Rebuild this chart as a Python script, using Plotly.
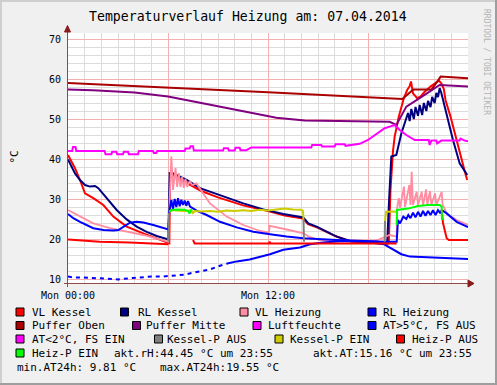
import plotly.graph_objects as go

W, H = 497, 385
L, R, T, B = 68, 29, 33, 102
PW, PH = W - L - R, H - T - B


def px(x):
    return (x - L) / PW


def py(y):
    return (H - B - y) / PH


# ---------------- data (hours since Mon 00:00, degC / %) ----------------
vl_kessel_h = [0.0, 0.42, 0.72, 1.02, 1.52, 2.12, 2.72, 3.52, 4.52, 5.52, 6.02, 6.08, 6.12, 6.2,
               7.0, 8.0, 9.0, 10.5, 12.0, 13.0, 14.1, 14.4, 15.0, 16.0, 17.0, 18.0, 19.2,
               19.25, 19.35, 19.5, 19.6, 19.85, 20.15, 20.35, 20.5, 20.58, 20.7, 20.95, 21.15,
               21.4, 21.75, 22.25, 22.4, 22.55, 22.65, 22.95, 23.25, 23.55, 23.8, 23.95]
vl_kessel_v = [41.0, 37.7, 34.75, 31.4, 30.2, 28.5, 25.6, 23.1, 21.4, 19.75, 18.9, 18.9, 35.0, 36.2,
               34.3, 32.0, 30.4, 28.4, 27.0, 25.9, 25.1, 23.7, 22.8, 20.8, 19.3, 19.0, 18.8,
               19.5, 32.3, 42.0, 45.6, 50.6, 55.2, 57.25, 58.2, 59.4, 56.4, 55.2, 55.6,
               56.8, 58.1, 59.6, 58.9, 57.5, 54.75, 50.6, 45.6, 40.6, 37.0, 34.75]

rl_kessel_h = [0.0, 0.24, 0.42, 0.72, 1.02, 1.32, 1.62, 1.82, 2.32, 2.92, 3.52, 4.12, 4.72, 5.32,
               6.02, 6.1, 6.32, 7.12, 7.92, 9.12, 10.52, 11.72, 12.92, 14.12, 14.42, 14.92,
               16.12, 16.92, 18.52, 19.0, 19.15, 19.2, 19.27, 19.4, 19.7, 20.0, 20.3, 20.4,
               20.5, 20.6, 20.75, 20.85, 21.0, 21.1, 21.25, 21.35, 21.5, 21.6, 21.75, 21.85,
               22.0, 22.1, 22.2, 22.3, 22.4, 22.55, 22.7, 23.1, 23.5, 23.8, 23.96]
rl_kessel_v = [39.9, 38.1, 36.4, 34.75, 33.5, 33.1, 33.25, 32.7, 30.2, 27.25, 24.9, 23.1, 21.8, 20.75,
               19.9, 36.5, 36.4, 34.75, 32.7, 31.0, 28.9, 27.4, 26.25, 25.4, 23.9, 23.1,
               20.6, 19.5, 19.0, 18.75, 19.0, 26.0, 30.2, 40.6, 41.0, 46.4, 50.2, 51.5,
               49.5, 52.5, 50.0, 53.0, 50.8, 53.5, 51.0, 54.0, 52.0, 54.5, 53.0, 55.5,
               54.0, 56.5, 55.5, 57.7, 56.5, 54.0, 51.4, 44.75, 38.9, 37.0, 36.0]

vl_heizung_h = [0.0, 0.72, 1.52, 2.52, 3.52, 4.52, 5.52, 6.02, 6.1, 6.2, 6.3, 6.45, 6.55, 6.65,
                6.75, 6.85, 6.95, 7.05, 7.15, 7.3, 7.45, 7.7, 8.52, 9.52, 10.52, 11.52, 12.05,
                12.1, 13.0, 14.12, 14.5, 15.1, 17.0, 18.5, 19.0, 19.3, 19.72, 19.75, 19.85,
                19.92, 20.16, 20.22, 20.48, 20.55, 20.62, 20.7, 20.92, 21.0, 21.22, 21.3,
                21.48, 21.56, 21.72, 21.8, 22.02, 22.1, 22.42, 22.48, 22.55, 22.72, 23.32,
                23.92, 24.0]
vl_heizung_v = [27.25, 25.6, 23.9, 22.7, 21.8, 21.0, 19.9, 19.3, 30.0, 40.6, 32.25, 37.7, 33.0, 36.5,
                33.0, 35.5, 32.8, 35.0, 33.0, 34.5, 33.5, 33.9, 28.9, 25.6, 23.5, 22.0, 21.6,
                23.3, 22.5, 21.4, 20.5, 19.75, 19.4, 19.6, 20.5, 21.0, 20.6, 28.0, 30.2,
                27.8, 33.1, 28.0, 33.5, 28.5, 36.8, 28.5, 31.8, 28.5, 31.8, 28.3,
                32.4, 28.5, 32.0, 28.5, 31.4, 28.5, 31.8, 28.4, 28.0, 26.4, 24.75,
                23.5, 23.5]

rl_heizung_h = [0.0, 0.32, 0.72, 1.12, 1.52, 2.12, 2.72, 3.02, 3.32, 3.72, 4.12, 4.52, 5.12, 5.72,
                6.02, 6.08, 6.2, 6.3, 6.4, 6.5, 6.6, 6.7, 6.8, 6.9, 7.0, 7.1, 7.2, 7.32, 7.72,
                8.32, 9.12, 10.12, 11.12, 12.12, 13.12, 14.12, 16.12, 19.0, 19.72, 19.8, 19.92,
                20.12, 20.3, 20.42, 20.55, 20.7, 20.85, 21.0, 21.15, 21.3, 21.45, 21.6, 21.75,
                21.9, 22.05, 22.2, 22.35, 22.42, 22.72, 23.32, 23.92, 24.0]
rl_heizung_v = [26.25, 25.2, 24.3, 23.5, 22.7, 22.25, 22.1, 22.25, 23.1, 24.1, 24.3, 24.1, 23.5, 22.8,
                22.4, 26.8, 29.75, 27.5, 30.0, 28.0, 30.2, 28.2, 29.8, 28.5, 29.6, 28.3, 29.5, 28.1, 27.1,
                26.0, 24.3, 22.9, 21.8, 21.2, 20.6, 20.2, 19.75, 19.3, 19.3, 24.75, 23.9,
                25.6, 25.0, 26.0, 25.2, 26.6, 25.4, 26.8, 25.6, 27.0, 25.8, 27.0, 26.0,
                27.2, 26.0, 27.2, 26.4, 27.25, 26.4, 24.3, 23.1, 23.0]

puffer_oben_h = [0.0, 6.0, 12.0, 20.06, 20.72, 21.82, 22.36, 24.0]
puffer_oben_v = [59.0, 57.9, 56.7, 55.0, 57.4, 57.4, 60.6, 60.2]

puffer_mitte_h = [0.0, 1.5, 4.0, 6.0, 8.0, 10.9, 12.5, 14.2, 17.0, 19.3, 19.7, 20.3, 21.1, 22.3, 24.0]
puffer_mitte_v = [57.4, 57.2, 56.6, 55.6, 54.0, 51.6, 50.3, 49.6, 49.5, 49.3, 48.5, 53.1, 55.2, 58.5, 58.1]

luftfeuchte_h = [0.0, 0.25, 0.3, 0.45, 0.5, 2.2, 2.25, 2.6, 2.65, 2.9, 2.95, 3.3, 3.35, 3.6, 3.65,
                 4.2, 4.25, 5.1, 5.15, 5.3, 5.35, 7.0, 7.05, 7.3, 7.35, 7.5, 7.55, 9.3, 9.35,
                 9.6, 9.65, 10.0, 10.05, 10.3, 10.35, 10.7, 11.0, 14.6, 14.65, 15.2, 15.25,
                 16.0, 16.05, 16.6, 16.65, 17.5, 18.0, 18.4, 18.7, 19.0, 19.3, 19.6, 19.9,
                 20.3, 20.8, 21.65, 21.7, 21.8, 22.1, 22.15, 22.4, 23.5, 23.55, 23.8, 24.0]
luftfeuchte_v = [42.0, 42.0, 43.0, 43.0, 42.0, 42.0, 41.2, 41.2, 41.8, 41.8, 41.2, 41.2, 41.8, 41.8, 41.2,
                 41.2, 42.0, 42.0, 41.5, 41.5, 42.0, 42.0, 42.6, 42.6, 43.2, 43.2, 42.1, 42.1, 42.7,
                 42.7, 42.1, 42.1, 42.8, 42.8, 42.2, 42.2, 42.9, 42.9, 43.5, 43.5, 43.1,
                 43.1, 43.7, 43.7, 43.3, 43.8, 44.75, 46.0, 46.8, 47.7, 48.1, 48.5, 47.25,
                 46.0, 44.75, 44.75, 43.5, 44.6, 44.6, 43.9, 44.6, 44.6, 45.1, 44.6, 44.45]

aussen_h = [0.0, 0.3, 0.9, 1.92, 2.5, 3.0, 3.9, 5.0, 5.62, 7.0, 7.52, 8.52, 9.12, 9.5,
            10.12, 10.9, 12.12, 12.92, 13.92, 14.52, 15.32, 16.5, 17.5, 18.52, 19.0,
            19.5, 20.0, 20.52, 21.5, 22.5, 24.0]
aussen_v = [10.6, 10.4, 10.4, 10.1, 10.0, 9.9, 10.25, 10.6, 10.6, 11.1, 11.6, 12.4, 13.3, 13.8,
            14.4, 14.9, 16.2, 17.3, 17.9, 18.7, 19.1, 19.5, 19.4, 19.3, 18.6,
            17.3, 16.2, 15.6, 15.4, 15.2, 15.0]
AT_DOTTED_UNTIL = 9.5

at_lt2_h = []
at_lt2_v = []

kessel_p_aus_h = [6.03, 6.06, None, 14.13, 14.16, None, 19.0, 19.02]
kessel_p_aus_v = [19.3, 26.5, None, 24.8, 19.3, None, 19.3, 24.5]

kessel_p_ein_h = [6.08, 6.3, 7.0, 7.4, 7.5, 7.6, 8.0, 8.5, 9.0, 9.5, 10.0, 10.5, 11.0, 11.5, 12.0,
                  12.5, 13.0, 13.5, 14.0, 14.1, 14.13, None, 19.02, 19.08, 19.5, 19.72]
kessel_p_ein_v = [26.8, 27.2, 27.0, 27.2, 26.5, 27.0, 26.9, 27.0, 26.8, 27.1, 27.0, 27.2, 27.0, 27.3, 27.1,
                  27.4, 27.6, 27.4, 27.3, 27.0, 24.8, None, 24.5, 26.8, 26.9, 26.8]

heiz_p_aus_h = [0.0, 1.9, 3.7, 5.5, 6.02, None, 7.5, 7.6, 12.05, 12.1, 12.15, 19.72, None,
                22.42, 22.5, 22.72, 22.85, 24.0]
heiz_p_aus_v = [19.9, 19.3, 19.1, 18.75, 18.7, None, 19.75, 18.9, 18.9, 19.3, 18.9, 18.9, None,
                27.2, 24.0, 20.2, 19.75, 19.75]

heiz_p_ein_h = [6.08, 6.2, 6.5, 7.0, 7.2, 7.3, 7.38, 7.45, None,
                19.72, 19.74, 20.4, 21.0, 21.6, 22.3, 22.42, 22.44]
heiz_p_ein_v = [26.8, 27.25, 27.4, 27.3, 27.0, 26.4, 27.2, 27.1, None,
                23.5, 27.25, 27.6, 28.25, 28.5, 28.5, 28.1, 24.75]

legend_labels = ["VL Kessel", "RL Kessel", "VL Heizung", "RL Heizung",
                 "Puffer Oben", "Puffer Mitte", "Luftfeuchte", "AT>5°C, FS AUS",
                 "AT<2°C, FS EIN", "Kessel-P AUS", "Kessel-P EIN", "Heiz-P AUS",
                 "Heiz-P EIN"]
x_tick_vals = [0, 6, 12, 18]
x_tick_text = ["Mon 00:00", "", "Mon 12:00", ""]
y_tick_vals = [10, 20, 30, 40, 50, 60, 70]

title_text = "Temperaturverlauf Heizung am: 07.04.2014"
info_rh = "akt.rH:44.45 °C um 23:55"
info_at = "akt.AT:15.16 °C um 23:55"
info_min = "min.AT24h: 9.81 °C"
info_max = "max.AT24h:19.55 °C"

# ---------------- styles ----------------
C = {
    "VL Kessel": "#FF0000", "RL Kessel": "#000080", "VL Heizung": "#FF8CA0",
    "RL Heizung": "#0000FF", "Puffer Oben": "#AA0000", "Puffer Mitte": "#800080",
    "Luftfeuchte": "#FF00FF", "AT>5°C, FS AUS": "#0000FF", "AT<2°C, FS EIN": "#FF00FF",
    "Kessel-P AUS": "#808080", "Kessel-P EIN": "#CCCC00", "Heiz-P AUS": "#FF0000",
    "Heiz-P EIN": "#00FF00",
}
MONO = "DejaVu Sans Mono"

fig = go.Figure()


def add(xs, ys, name, dash="solid", width=2):
    fig.add_trace(go.Scatter(x=xs, y=ys, mode="lines", name=name, connectgaps=False,
                             line=dict(color=C[name], width=width, dash=dash),
                             hoverinfo="skip", showlegend=False))


add(vl_kessel_h, vl_kessel_v, "VL Kessel")
add(rl_kessel_h, rl_kessel_v, "RL Kessel")
add(vl_heizung_h, vl_heizung_v, "VL Heizung", width=1.8)
add(rl_heizung_h, rl_heizung_v, "RL Heizung")
add(puffer_oben_h, puffer_oben_v, "Puffer Oben")
add(puffer_mitte_h, puffer_mitte_v, "Puffer Mitte")
add(luftfeuchte_h, luftfeuchte_v, "Luftfeuchte")
k = sum(1 for h in aussen_h if h <= AT_DOTTED_UNTIL)
add(aussen_h[:k], aussen_v[:k], "AT>5°C, FS AUS", dash="4px,4px")
add(aussen_h[k - 1:], aussen_v[k - 1:], "AT>5°C, FS AUS")
add(at_lt2_h, at_lt2_v, "AT<2°C, FS EIN")
add(kessel_p_aus_h, kessel_p_aus_v, "Kessel-P AUS")
add(kessel_p_ein_h, kessel_p_ein_v, "Kessel-P EIN")
add(heiz_p_aus_h, heiz_p_aus_v, "Heiz-P AUS")
add(heiz_p_ein_h, heiz_p_ein_v, "Heiz-P EIN")

shapes = []
annotations = []

# outer shading border
shapes += [
    dict(type="rect", xref="paper", yref="paper", x0=px(0), x1=px(W), y0=py(0), y1=py(2),
         fillcolor="#CFCFCF", line=dict(width=0), layer="above"),
    dict(type="rect", xref="paper", yref="paper", x0=px(0), x1=px(2), y0=py(0), y1=py(H),
         fillcolor="#CFCFCF", line=dict(width=0), layer="above"),
    dict(type="rect", xref="paper", yref="paper", x0=px(0), x1=px(W), y0=py(H - 2), y1=py(H),
         fillcolor="#9E9E9E", line=dict(width=0), layer="above"),
    dict(type="rect", xref="paper", yref="paper", x0=px(W - 2), x1=px(W), y0=py(0), y1=py(H),
         fillcolor="#9E9E9E", line=dict(width=0), layer="above"),
]

AXC = "#904848"
ARC = "#8B1A1A"
# axes with arrows
shapes += [
    dict(type="line", xref="paper", yref="paper", x0=px(64), x1=px(470), y0=py(283.5), y1=py(283.5),
         line=dict(color=AXC, width=1), layer="above"),
    dict(type="line", xref="paper", yref="paper", x0=px(67.5), x1=px(67.5), y0=py(287), y1=py(29),
         line=dict(color=AXC, width=1), layer="above"),
    dict(type="path", xref="paper", yref="paper",
         path=f"M {px(468)} {py(280)} L {px(474)} {py(283.5)} L {px(468)} {py(287)} Z",
         fillcolor=ARC, line=dict(color=ARC, width=1), layer="above"),
    dict(type="path", xref="paper", yref="paper",
         path=f"M {px(64.5)} {py(32)} L {px(67.5)} {py(25.5)} L {px(70.5)} {py(32)} Z",
         fillcolor=ARC, line=dict(color=ARC, width=1), layer="above"),
]


def text(x, y, s, size=11, anchor="left", angle=0, color="#000000"):
    annotations.append(dict(x=px(x), y=py(y), xref="paper", yref="paper", text=s,
                            showarrow=False, xanchor=anchor, yanchor="middle",
                            textangle=angle, borderpad=0,
                            font=dict(family=MONO, size=size, color=color)))


text(248, 16.5, title_text, size=13.2, anchor="center")
text(13.5, 157, "°C", size=11, anchor="center", angle=-90)
text(487, 62, "RRDTOOL / TOBI OETIKER", size=8, anchor="center", angle=90, color="#B4B4B4")

rows_y = [312, 325.5, 339, 353, 367]
legend_pos = [
    (0, 16, 30.5), (0, 120.5, 136.5), (0, 240, 254), (0, 368, 382),
    (1, 16, 30.5), (1, 132.5, 145), (1, 253, 267), (1, 368, 382),
    (2, 16, 30.5), (2, 154.5, 166), (2, 275, 289), (2, 396.5, 410.5),
    (3, 16, 30.5),
]
for lab, (r, sx, tx) in zip(legend_labels, legend_pos):
    yc = rows_y[r]
    shapes.append(dict(type="rect", xref="paper", yref="paper", x0=px(sx), x1=px(sx + 8),
                       y0=py(yc - 4), y1=py(yc + 4), fillcolor=C[lab],
                       line=dict(color="#000000", width=1), layer="above"))
    text(tx, yc, lab)

text(112.5, rows_y[3], info_rh)
text(312, rows_y[3], info_at)
text(16, rows_y[4], info_min)
text(158.5, rows_y[4], info_max)

fig.update_layout(
    width=W, height=H,
    margin=dict(l=L, r=R, t=T, b=B, pad=0),
    paper_bgcolor="#F0F0F0", plot_bgcolor="#FFFFFF",
    showlegend=False, shapes=shapes, annotations=annotations,
    xaxis=dict(range=[0, 24], tickvals=x_tick_vals, ticktext=x_tick_text,
               showgrid=True, gridcolor="#F4B0B0", gridwidth=1, zeroline=False,
               showline=False, ticks="", ticklabelstandoff=5,
               tickfont=dict(family=MONO, size=10, color="#000000"),
               minor=dict(dtick=1, tick0=0, showgrid=True, gridcolor="#DCDCDC", gridwidth=1)),
    yaxis=dict(range=[9.0, 71.5], tickvals=y_tick_vals,
               showgrid=True, gridcolor="#F4B0B0", gridwidth=1, zeroline=False,
               showline=False, ticks="", ticklabelstandoff=6,
               tickfont=dict(family=MONO, size=10, color="#000000"),
               minor=dict(dtick=2, tick0=0, showgrid=True, gridcolor="#DCDCDC", gridwidth=1)),
)

fig.write_html("out.html", config={"displayModeBar": False},
               post_script="document.body.style.margin='0';document.body.style.overflow='hidden';")
